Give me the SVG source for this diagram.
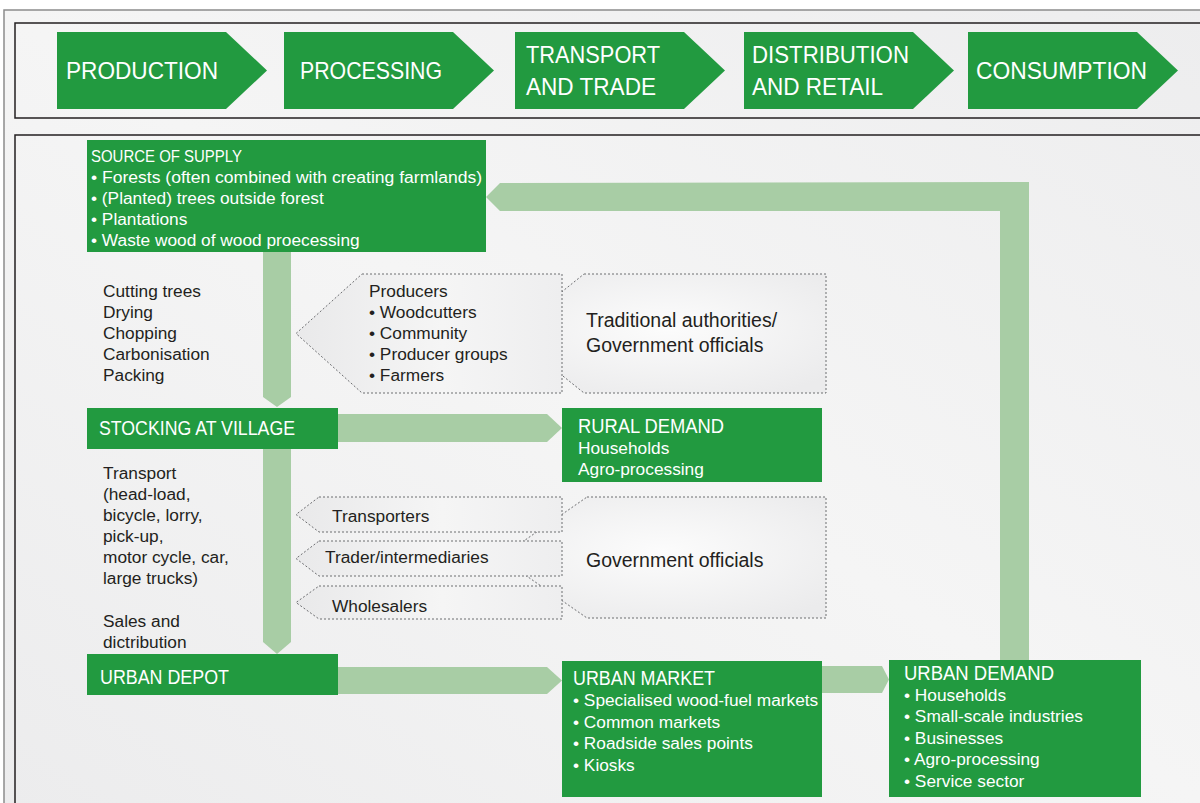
<svg xmlns="http://www.w3.org/2000/svg" width="1200" height="803" viewBox="0 0 1200 803">
<defs>
<linearGradient id="panelBg" x1="0" y1="1" x2="1" y2="0">
<stop offset="0" stop-color="#ececed"/>
<stop offset="0.5" stop-color="#f5f5f5"/>
<stop offset="1" stop-color="#ededee"/>
</linearGradient>
<linearGradient id="dotBg" x1="0" y1="0" x2="1" y2="0">
<stop offset="0" stop-color="#e9e9ea"/>
<stop offset="0.55" stop-color="#f5f5f5"/>
<stop offset="1" stop-color="#eeeeef"/>
</linearGradient>
<radialGradient id="dotBg2" cx="0.5" cy="0.45" r="0.65">
<stop offset="0" stop-color="#fcfcfc"/>
<stop offset="1" stop-color="#ebebec"/>
</radialGradient>
</defs>
<style>
.panel{fill:url(#panelBg);stroke:#8c8c8c;stroke-width:1.5}
.frame{fill:none;stroke:#231f20;stroke-width:1.5}
.g{fill:#229a40}
.lg{fill:#a8cda5}
.dot{fill:url(#dotBg);stroke:#6d6e71;stroke-width:1;stroke-dasharray:2 2}
.dot2{fill:url(#dotBg2);stroke:#6d6e71;stroke-width:1;stroke-dasharray:2 2}
text{font-family:"Liberation Sans",Arial,sans-serif}
.w{fill:#ffffff}
.d{fill:#231f20}
.hd{font-size:24px}
.h{font-size:20px}
.b{font-size:17.3px}
.s{font-size:19.5px}
</style>
<rect width="1200" height="803" fill="#ffffff"/>
<rect class="panel" x="4" y="10" width="1210" height="800"/>
<rect class="frame" x="15" y="23" width="1200" height="95"/>
<rect class="frame" x="15" y="135" width="1200" height="680"/>

<g id="stage-production">
<polygon class="g" points="57,32 226,32 267,70.5 226,109 57,109"/>
<text class="w hd" x="66" y="79" textLength="152" lengthAdjust="spacingAndGlyphs">PRODUCTION</text>
</g>
<g id="stage-processing">
<polygon class="g" points="284,32 453,32 494,70.5 453,109 284,109"/>
<text class="w hd" x="300" y="79" textLength="142" lengthAdjust="spacingAndGlyphs">PROCESSING</text>
</g>
<g id="stage-transport">
<polygon class="g" points="515,32 684,32 725,70.5 684,109 515,109"/>
<text class="w hd" x="526" y="63" textLength="134" lengthAdjust="spacingAndGlyphs">TRANSPORT</text>
<text class="w hd" x="526" y="95" textLength="130" lengthAdjust="spacingAndGlyphs">AND TRADE</text>
</g>
<g id="stage-distribution">
<polygon class="g" points="744,32 913,32 954,70.5 913,109 744,109"/>
<text class="w hd" x="752" y="63" textLength="157" lengthAdjust="spacingAndGlyphs">DISTRIBUTION</text>
<text class="w hd" x="752" y="95" textLength="131" lengthAdjust="spacingAndGlyphs">AND RETAIL</text>
</g>
<g id="stage-consumption">
<polygon class="g" points="968,32 1137,32 1178,70.5 1137,109 968,109"/>
<text class="w hd" x="976" y="79" textLength="171" lengthAdjust="spacingAndGlyphs">CONSUMPTION</text>
</g>

<g id="connectors">
<polygon class="lg" points="263,252 291,252 291,397 277,407 263,397"/>
<polygon class="lg" points="263,449 291,449 291,642 277,654 263,642"/>
<polygon class="lg" points="338,414 547,414 562,428 547,442 338,442"/>
<polygon class="lg" points="338,667 547,667 562,680.5 547,694 338,694"/>
<polygon class="lg" points="822,666 882,666 889,679.5 882,693 822,693"/>
<polygon class="lg" points="1029,660 1029,182 500,183 486,197 500,211 1000,211 1000,660"/>
</g>

<g id="traditional-authorities">
<polygon class="dot2" points="584,274 826,274 826,393 584,393 510,333.5"/>
<text class="d s" x="586" y="327">Traditional authorities/</text>
<text class="d s" x="586" y="352">Government officials</text>
</g>
<g id="producers">
<polygon class="dot" points="362,274 562,274 562,393 362,393 296,333.5"/>
<text class="d b" x="369" y="297">Producers</text>
<text class="d b" x="369" y="318">• Woodcutters</text>
<text class="d b" x="369" y="339">• Community</text>
<text class="d b" x="369" y="360">• Producer groups</text>
<text class="d b" x="369" y="381">• Farmers</text>
</g>

<g id="government-officials">
<polygon class="dot2" points="587,497 826,497 826,618 587,618 500,557.5"/>
<text class="d s" x="586" y="567">Government officials</text>
</g>
<g id="transporters">
<polygon class="dot" points="319,497 562,497 562,532 319,532 296,514.5"/>
<text class="d b" x="332" y="522">Transporters</text>
</g>
<g id="traders">
<polygon class="dot" points="319,541 562,541 562,576 319,576 296,558.5"/>
<text class="d b" x="325" y="563">Trader/intermediaries</text>
</g>
<g id="wholesalers">
<polygon class="dot" points="319,586 562,586 562,619 319,619 296,602.5"/>
<text class="d b" x="332" y="612">Wholesalers</text>
</g>

<g id="source-of-supply">
<rect class="g" x="87" y="140" width="399" height="112"/>
<text class="w" x="91" y="162" font-size="16.5" textLength="151" lengthAdjust="spacingAndGlyphs">SOURCE OF SUPPLY</text>
<text class="w b" x="91" y="183" textLength="391" lengthAdjust="spacingAndGlyphs">• Forests (often combined with creating farmlands)</text>
<text class="w b" x="91" y="204">• (Planted) trees outside forest</text>
<text class="w b" x="91" y="225">• Plantations</text>
<text class="w b" x="91" y="246">• Waste wood of wood proecessing</text>
</g>

<g id="processing-steps">
<text class="d b" x="103" y="297">Cutting trees</text>
<text class="d b" x="103" y="318">Drying</text>
<text class="d b" x="103" y="339">Chopping</text>
<text class="d b" x="103" y="360">Carbonisation</text>
<text class="d b" x="103" y="381">Packing</text>
</g>

<g id="stocking-at-village">
<rect class="g" x="87" y="408" width="251" height="41"/>
<text class="w h" x="99" y="435" textLength="196" lengthAdjust="spacingAndGlyphs">STOCKING AT VILLAGE</text>
</g>

<g id="rural-demand">
<rect class="g" x="562" y="408" width="260" height="74"/>
<text class="w h" x="578" y="433" textLength="146" lengthAdjust="spacingAndGlyphs">RURAL DEMAND</text>
<text class="w b" x="578" y="454">Households</text>
<text class="w b" x="578" y="475">Agro-processing</text>
</g>

<g id="transport-steps">
<text class="d b" x="103" y="479">Transport</text>
<text class="d b" x="103" y="500">(head-load,</text>
<text class="d b" x="103" y="521">bicycle, lorry,</text>
<text class="d b" x="103" y="542">pick-up,</text>
<text class="d b" x="103" y="563">motor cycle, car,</text>
<text class="d b" x="103" y="584">large trucks)</text>
<text class="d b" x="103" y="627">Sales and</text>
<text class="d b" x="103" y="648">dictribution</text>
</g>

<g id="urban-depot">
<rect class="g" x="87" y="654" width="251" height="41"/>
<text class="w h" x="100" y="684" textLength="129" lengthAdjust="spacingAndGlyphs">URBAN DEPOT</text>
</g>

<g id="urban-market">
<rect class="g" x="562" y="661" width="260" height="136"/>
<text class="w h" x="573" y="685" textLength="142" lengthAdjust="spacingAndGlyphs">URBAN MARKET</text>
<text class="w b" x="573" y="706">• Specialised wood-fuel markets</text>
<text class="w b" x="573" y="728">• Common markets</text>
<text class="w b" x="573" y="749">• Roadside sales points</text>
<text class="w b" x="573" y="771">• Kiosks</text>
</g>

<g id="urban-demand">
<rect class="g" x="889" y="660" width="252" height="137"/>
<text class="w h" x="904" y="680" textLength="150" lengthAdjust="spacingAndGlyphs">URBAN DEMAND</text>
<text class="w b" x="904" y="701">• Households</text>
<text class="w b" x="904" y="722">• Small-scale industries</text>
<text class="w b" x="904" y="744">• Businesses</text>
<text class="w b" x="904" y="765">• Agro-processing</text>
<text class="w b" x="904" y="787">• Service sector</text>
</g>
</svg>
